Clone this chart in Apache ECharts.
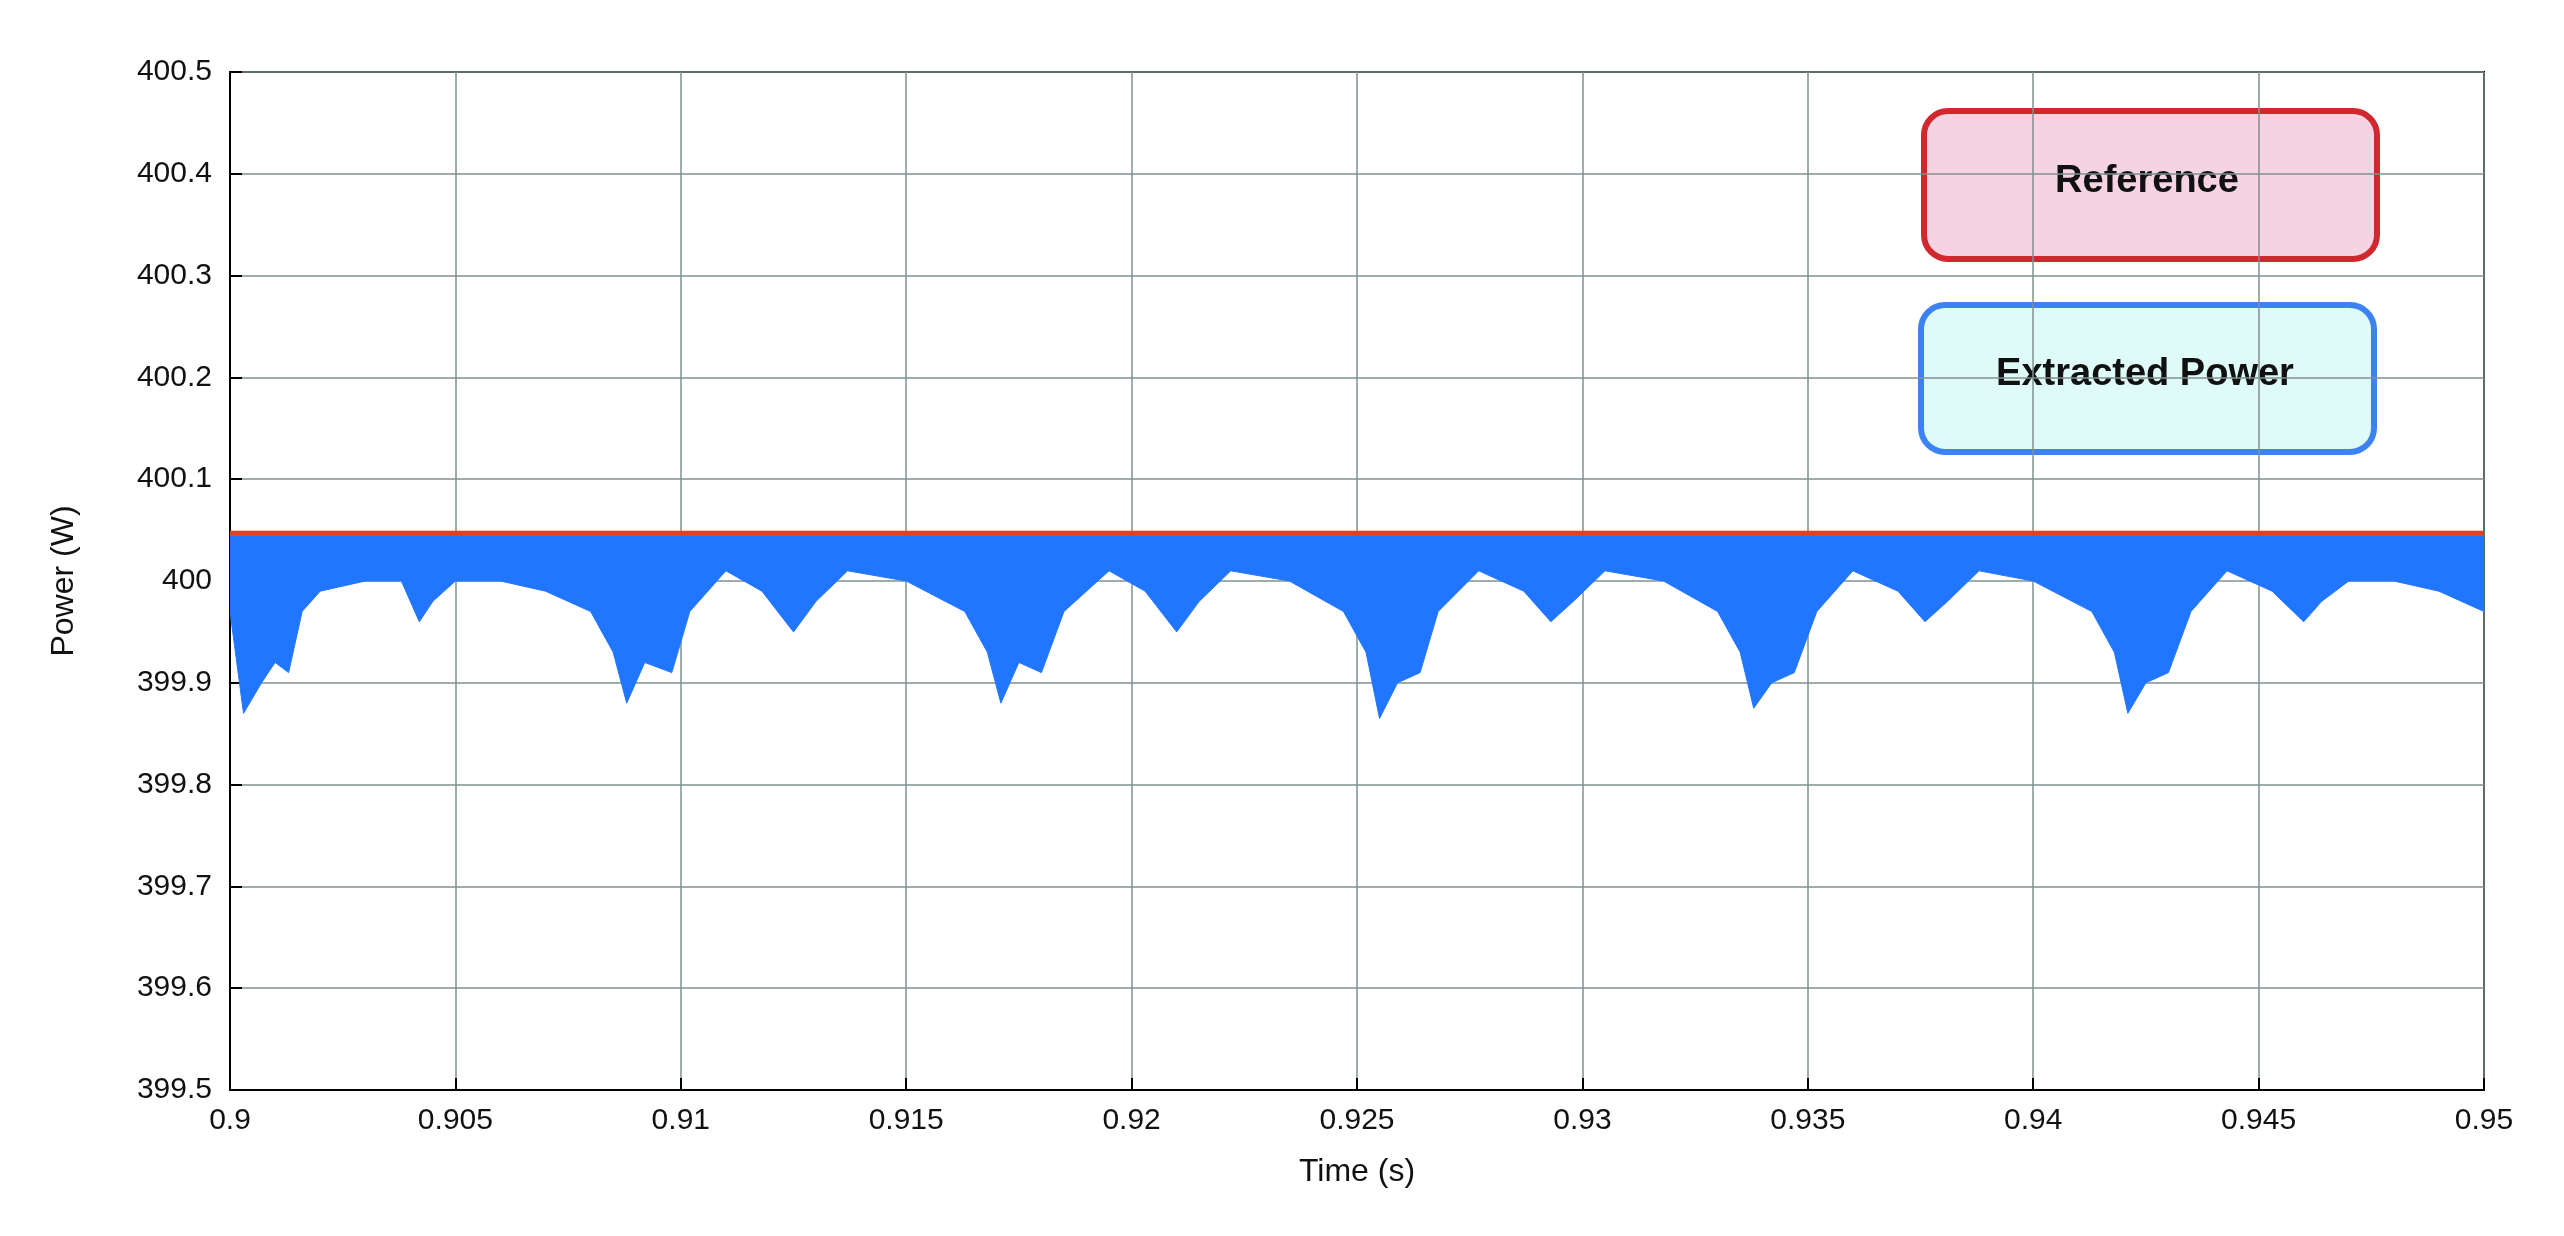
<!DOCTYPE html>
<html>
<head>
<meta charset="utf-8">
<script src="https://cdn.jsdelivr.net/npm/echarts@6/dist/echarts.min.js"></script>
<style>
  html, body { margin: 0; padding: 0; background: #fff; }
  #container { width: 2564px; height: 1236px; }
</style>
</head>
<body>
<div id="container"></div>
<script>
// time (s) and lower envelope of extracted power (W)
var times = [0.9000, 0.9003, 0.9007, 0.9010, 0.9013, 0.9016, 0.9020, 0.9030, 0.9038, 0.9042, 0.9045, 0.9050, 0.9060, 0.9070, 0.9080, 0.9085,
  0.9088, 0.9092, 0.9098, 0.9102, 0.9110, 0.9118, 0.9125, 0.9130, 0.9137, 0.9150, 0.9163, 0.9168, 0.9171, 0.9175, 0.9180, 0.9185,
  0.9195, 0.9203, 0.9210, 0.9215, 0.9222, 0.9235, 0.9247, 0.9252, 0.9255, 0.9259, 0.9264, 0.9268, 0.9277, 0.9287, 0.9293, 0.9298,
  0.9305, 0.9318, 0.9330, 0.9335, 0.9338, 0.9342, 0.9347, 0.9352, 0.9360, 0.9370, 0.9376, 0.9381, 0.9388, 0.9400, 0.9413, 0.9418,
  0.9421, 0.9425, 0.9430, 0.9435, 0.9443, 0.9453, 0.9460, 0.9464, 0.9470, 0.9480, 0.9490, 0.9500];
var lowerVals = [399.97, 399.87, 399.90, 399.92, 399.91, 399.97, 399.99, 400.00, 400.00, 399.96, 399.98, 400.00, 400.00, 399.99, 399.97, 399.93,
  399.88, 399.92, 399.91, 399.97, 400.01, 399.99, 399.95, 399.98, 400.01, 400.00, 399.97, 399.93, 399.88, 399.92, 399.91, 399.97,
  400.01, 399.99, 399.95, 399.98, 400.01, 400.00, 399.97, 399.93, 399.865, 399.90, 399.91, 399.97, 400.01, 399.99, 399.96, 399.98,
  400.01, 400.00, 399.97, 399.93, 399.875, 399.90, 399.91, 399.97, 400.01, 399.99, 399.96, 399.98, 400.01, 400.00, 399.97, 399.93,
  399.87, 399.90, 399.91, 399.97, 400.01, 399.99, 399.96, 399.98, 400.00, 400.00, 399.99, 399.97];
var bandTop = 400.045;
var refTimes = [0.9, 0.95];
var refVals = [400.047, 400.047];

var lowerData = times.map(function (t, i) { return [t, lowerVals[i]]; });

var labelFont = 'Liberation Sans';

function renderBand(params, api) {
  if (params.dataIndex !== 0) return null;
  var pts = [];
  for (var i = 0; i < times.length; i++) pts.push(api.coord([times[i], lowerVals[i]]));
  for (var j = times.length - 1; j >= 0; j--) pts.push(api.coord([times[j], bandTop]));
  return {
    type: 'polygon',
    shape: { points: pts },
    style: { fill: '#2176ff', stroke: '#2176ff', lineWidth: 1 }
  };
}

var myChart = echarts.init(document.getElementById('container'));
myChart.setOption({
  backgroundColor: '#fff',
  animation: false,
  grid: { left: 230, right: 80, top: 72, bottom: 146, show: true, borderColor: '#000', borderWidth: 2 },
  xAxis: {
    type: 'value', min: 0.9, max: 0.95, interval: 0.005,
    name: 'Time (s)', nameLocation: 'middle', nameGap: 66,
    nameTextStyle: { fontFamily: labelFont, fontSize: 32, color: '#111' },
    axisLine: { lineStyle: { color: '#000', width: 2 } },
    axisTick: { inside: true, length: 12, lineStyle: { color: '#000', width: 2 } },
    axisLabel: { fontFamily: labelFont, fontSize: 30, color: '#111', margin: 16,
      formatter: function (v) { return String(+v.toFixed(3)); } },
    splitLine: { show: true, lineStyle: { color: '#7f9090', width: 1.5 } }
  },
  yAxis: {
    type: 'value', min: 399.5, max: 400.5, interval: 0.1,
    name: 'Power (W)', nameLocation: 'middle', nameGap: 150,
    nameTextStyle: { fontFamily: labelFont, fontSize: 32, color: '#111' },
    axisLine: { show: true, lineStyle: { color: '#000', width: 2 } },
    axisTick: { inside: true, length: 12, lineStyle: { color: '#000', width: 2 } },
    axisLabel: { fontFamily: labelFont, fontSize: 30, color: '#111', margin: 18,
      formatter: function (v) { return String(+v.toFixed(1)); } },
    splitLine: { show: true, lineStyle: { color: '#7f9090', width: 1.5 } }
  },
  series: [
    { name: 'Extracted Power', type: 'custom', data: lowerData, renderItem: renderBand,
      encode: { x: 0, y: 1 }, clip: true, z: 3 },
    { name: 'Reference', type: 'line', data: refTimes.map(function (t, i) { return [t, refVals[i]]; }),
      symbol: 'none', lineStyle: { width: 5, color: '#e8401c' }, z: 5 }
  ],
  graphic: [
    { type: 'rect', left: 1921, top: 108, shape: { width: 453, height: 148, r: 24 },
      style: { fill: '#f5d3e3', stroke: '#d0282e', lineWidth: 6 } },
    { type: 'text',
      style: { text: 'Reference', fontFamily: labelFont, fontSize: 38, fontWeight: 'bold', fill: '#111', x: 2147, y: 182, align: 'center', verticalAlign: 'middle' } },
    { type: 'rect', left: 1918, top: 302, shape: { width: 453, height: 147, r: 24 },
      style: { fill: '#defbf8', stroke: '#3c82f2', lineWidth: 6 } },
    { type: 'text',
      style: { text: 'Extracted Power', fontFamily: labelFont, fontSize: 38, fontWeight: 'bold', fill: '#111', x: 2145, y: 375, align: 'center', verticalAlign: 'middle' } }
  ]
});
</script>
</body>
</html>
